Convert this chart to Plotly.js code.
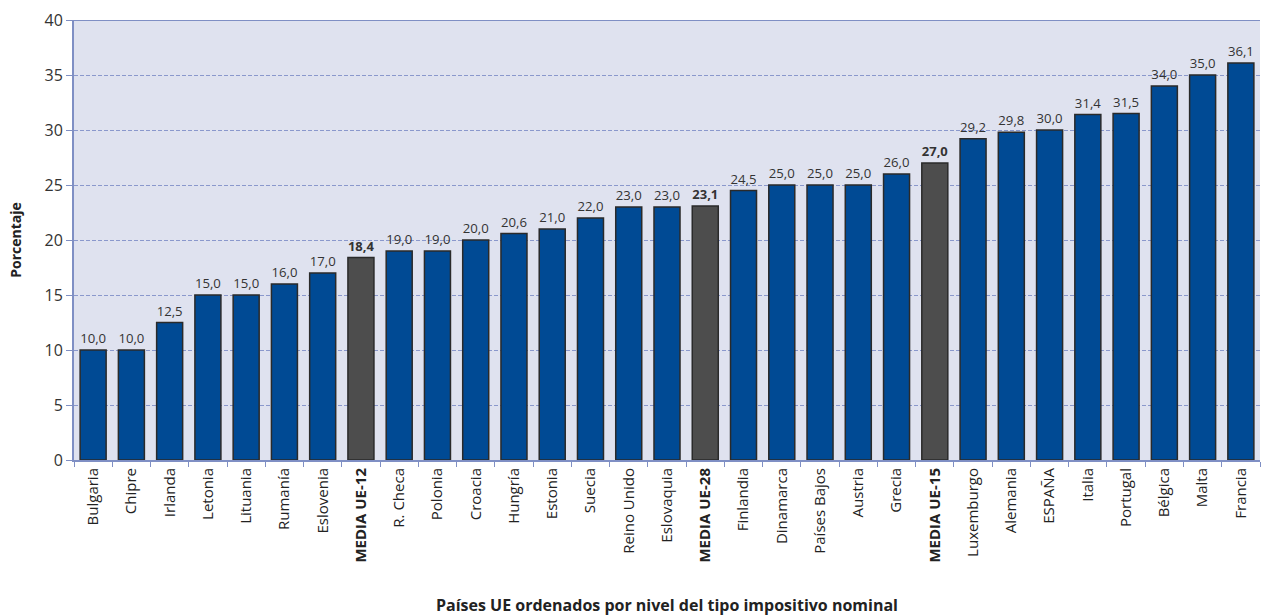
<!DOCTYPE html>
<html>
<head>
<meta charset="utf-8">
<script src="https://cdn.plot.ly/plotly-3.0.1.min.js"></script>
<style>html,body{margin:0;padding:0;background:#fff;}#chart{width:1263px;height:616px;}</style>
</head>
<body>
<div id="chart"></div>
<script>
const categories = ["Bulgaria","Chipre","Irlanda","Letonia","Lituania","Rumanía","Eslovenia","MEDIA UE-12","R. Checa","Polonia","Croacia","Hungría","Estonia","Suecia","Reino Unido","Eslovaquia","MEDIA UE-28","Finlandia","Dinamarca","Países Bajos","Austria","Grecia","MEDIA UE-15","Luxemburgo","Alemania","ESPAÑA","Italia","Portugal","Bélgica","Malta","Francia"];
const values = [10.0,10.0,12.5,15.0,15.0,16.0,17.0,18.4,19.0,19.0,20.0,20.6,21.0,22.0,23.0,23.0,23.1,24.5,25.0,25.0,25.0,26.0,27.0,29.2,29.8,30.0,31.4,31.5,34.0,35.0,36.1];
const averages = ["MEDIA UE-12","MEDIA UE-28","MEDIA UE-15"];

const isAvg = categories.map(c => averages.includes(c));
const fmt = v => v.toFixed(1).replace('.', ',');
const labels = values.map((v,i) => isAvg[i] ? '<b>' + fmt(v) + '</b>' : fmt(v));
const tickText = categories.map((c,i) => isAvg[i] ? '<b>' + c + '</b>' : c);

const trace = {
  type: 'bar',
  x: categories,
  y: values,
  text: labels,
  textposition: 'outside',
  cliponaxis: false,
  textfont: {family: 'Open Sans, sans-serif', size: 14, color: '#333'},
  marker: {
    color: isAvg.map(a => a ? '#4d4d4d' : '#004a94'),
    line: {color: '#2a2a2a', width: 1.5}
  },
  hoverinfo: 'x+y'
};

const layout = {
  width: 1263, height: 616,
  margin: {l: 74, r: 3, t: 20, b: 156},
  paper_bgcolor: '#ffffff',
  plot_bgcolor: '#dfe2ef',
  bargap: 0.32,
  showlegend: false,
  font: {family: 'Open Sans, sans-serif', color: '#333'},
  xaxis: {
    type: 'category',
    tickmode: 'array',
    tickvals: categories,
    ticktext: tickText,
    tickangle: -90,
    tickfont: {size: 15, color: '#222'},
    showline: true, linecolor: '#7f8fc4', linewidth: 2,
    ticks: 'outside', tickson: 'boundaries', ticklen: 5, tickcolor: '#7f8fc4',
    showgrid: false,
    mirror: false,
    title: {text: '<b>Países UE ordenados por nivel del tipo impositivo nominal</b>', font: {size: 16, color: '#222'}, standoff: 38}
  },
  yaxis: {
    range: [0, 40],
    dtick: 5,
    tickfont: {size: 16, color: '#333'},
    showline: true, linecolor: '#7f8fc4', linewidth: 2,
    ticks: 'outside', ticklen: 6, tickcolor: '#7f8fc4',
    showgrid: true, gridcolor: '#8a98cc', griddash: '4px,2px', gridwidth: 1,
    zeroline: false,
    title: {text: '<b>Porcentaje</b>', font: {size: 14, color: '#222'}, standoff: 20}
  },
  shapes: [{type: 'line', xref: 'paper', yref: 'y', x0: 0, x1: 1, y0: 40, y1: 40, line: {color: '#7f8fc4', width: 2}}]
};

Plotly.newPlot('chart', [trace], layout, {displayModeBar: false, staticPlot: true});
</script>
</body>
</html>
